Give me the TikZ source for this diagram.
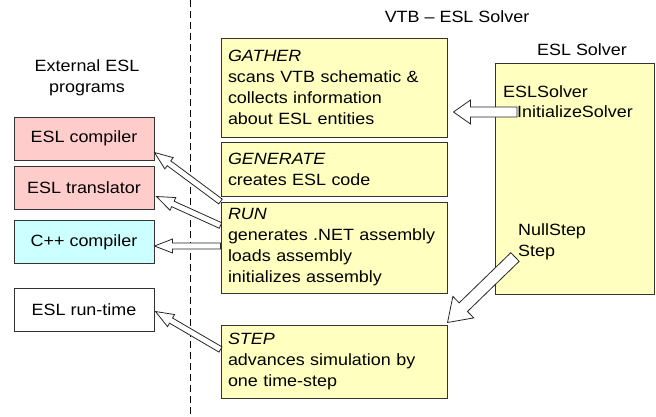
\documentclass[tikz,border=0pt]{standalone}
\usepackage{fontspec}
\setmainfont{Liberation Sans}[FakeStretch=1.1]
\usetikzlibrary{calc}
\definecolor{taskyellow}{RGB}{255,255,192}
\definecolor{progpink}{RGB}{255,204,204}
\definecolor{progcyan}{RGB}{204,255,255}
\begin{document}
\begin{tikzpicture}[x=1pt,y=-1pt,font=\fontsize{16.3}{21}\selectfont,
  prog/.style={draw=black!80,line width=1pt,minimum width=140pt,minimum height=43pt,inner sep=0pt},
  task/.style={draw=black!80,line width=1pt,fill=taskyellow,minimum width=226pt,text width=212pt,inner xsep=7pt,inner ysep=0pt,align=left},
  fn/.style={anchor=west,inner sep=0pt},
  hollow/.style n args={3}{draw=black!85,line width=0.8pt,fill=white,
    to path={let \p1=(\tikztostart), \p2=(\tikztotarget),
      \n1={atan2(\y2-\y1,\x2-\x1)}, \n2={veclen(\x2-\x1,\y2-\y1)} in
      {[shift={(\p1)},rotate=\n1] (0pt,-#1pt) -- (\n2-#3pt,-#1pt) -- (\n2-#3pt,-#2pt) -- (\n2,0pt)
        -- (\n2-#3pt,#2pt) -- (\n2-#3pt,#1pt) -- (0pt,#1pt) -- cycle}}}]
  \useasboundingbox (0,0) rectangle (656,416);
  \draw[line width=1pt,dash pattern=on 7pt off 4pt] (190,0) -- (190,416);
  % headings
  \node (title) at (457,17) {VTB – ESL Solver};
  \node[align=center] (ext) at (87,77.5) {External ESL\\programs};
  \node (soltitle) at (582,50) {ESL Solver};
  % external programs
  \node[prog,fill=progpink] (compiler) at (84,138.5) {ESL compiler};
  \node[prog,fill=progpink] (translator) at (84,187.5) {ESL translator};
  \node[prog,fill=progcyan] (cpp) at (84,242) {C++ compiler};
  \node[prog,fill=white] (runtime) at (84,309.5) {ESL run-time};
  % solver steps
  \node[task,minimum height=99pt] (gather) at (334,87.5) {\textit{GATHER}\\scans VTB schematic \&\\collects information\\about ESL entities};
  \node[task,minimum height=54pt] (generate) at (334,169) {\textit{GENERATE}\\creates ESL code};
  \node[task,minimum height=91pt] (run) at (334,247.5) {\textit{RUN}\\generates .NET assembly\\loads assembly\\initializes assembly};
  \node[task,minimum height=73pt] (step) at (334,361.5) {\textit{STEP}\\advances simulation by\\one time-step};
  % ESL solver
  \node[draw=black!80,line width=1pt,fill=taskyellow,minimum width=159pt,minimum height=231pt,inner sep=0pt] (solver) at (574.5,178.5) {};
  \node[fn] (eslsolver) at (503,92) {ESLSolver};
  \node[fn] (init) at (517,112) {InitializeSolver};
  \node[fn] (nullstep) at (518,231) {NullStep};
  \node[fn] (stepfn) at (518,252) {Step};
  % arrows
  \draw[hollow={5}{12}{17}] (init.west) to ($(gather.east |- init.west)+(6,0)$);
  \draw[hollow={3}{7}{18}] (run.north west) to ($(compiler.south east)+(0,-8)$);
  \draw[hollow={3}{7}{18}] ($(run.north west)+(0,24)$) to ($(translator.east)+(2,9)$);
  \draw[hollow={3}{7}{18}] ($(run.west |- cpp.east)+(0,4)$) to ($(cpp.east)+(0,4)$);
  \draw[hollow={3}{7}{18}] ($(step.north west)+(0,25)$) to ($(runtime.east)+(1,2)$);
  \draw[hollow={6}{15}{22}] ($(stepfn.west)+(-3,5)$) to ($(step.north east)+(0,-2)$);
\end{tikzpicture}
\end{document}
